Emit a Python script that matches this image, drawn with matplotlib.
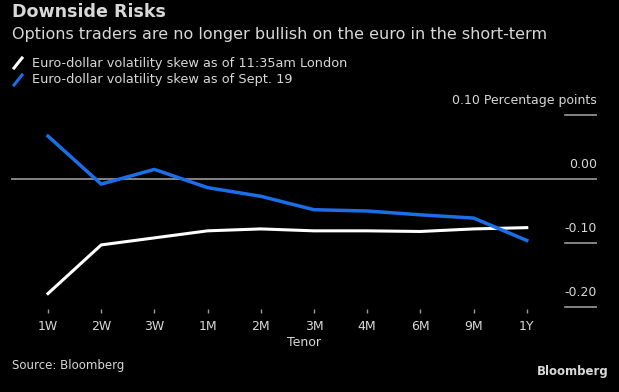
import matplotlib.pyplot as plt
from matplotlib.lines import Line2D
from matplotlib.transforms import blended_transform_factory

tenors = ['1W', '2W', '3W', '1M', '2M', '3M', '4M', '6M', '9M', '1Y']
skew_now = [-0.179, -0.103, -0.092, -0.081, -0.078, -0.081, -0.081, -0.082, -0.078, -0.076]
skew_sep19 = [0.067, -0.008, 0.015, -0.0135, -0.027, -0.048, -0.050, -0.056, -0.061, -0.096]
ytick_vals = [0.10, 0.00, -0.10, -0.20]
ytick_labels = ['0.10 Percentage points', '0.00', '-0.10', '-0.20']

bg = 'black'
txt = '#d8d8d8'
blue = '#1a6fe8'

fig = plt.figure(figsize=(6.19, 3.92), dpi=100, facecolor=bg)
W, H = 619, 392
ax = fig.add_axes([11 / W, 1 - 309 / H, (597 - 11) / W, (309 - 100) / H], facecolor=bg)

x = list(range(len(tenors)))
ax.plot(x, skew_now, color='white', lw=2.2, solid_joinstyle='round', zorder=3)
ax.plot(x, skew_sep19, color=blue, lw=2.5, solid_joinstyle='round', zorder=3)

ax.set_xlim(-0.695, 10.32)
ax.set_ylim((179 - 309) / 640, (179 - 100) / 640)

# y "ticks": zero line across, short marks on the right for the rest
trans = blended_transform_factory(ax.transAxes, ax.transData)
for v, lab in zip(ytick_vals, ytick_labels):
    if v == 0:
        ax.axhline(0, color='#9a9a9a', lw=1.2, zorder=1)
    else:
        ax.axhline(v, xmin=(565 - 11) / (597 - 11), xmax=1, color='#9a9a9a', lw=1.2)
    ax.text(1, v + 0.013, lab, transform=trans, ha='right', va='bottom',
            color=txt, fontsize=9)

ax.set_yticks([])
ax.set_xticks(x)
ax.set_xticklabels(tenors, color=txt, fontsize=9)
ax.tick_params(axis='x', colors='#9a9a9a', length=3, width=1, pad=5, labelcolor=txt)
ax.set_xlabel('Tenor', color=txt, fontsize=9, labelpad=2)
for s in ax.spines.values():
    s.set_visible(False)

fig.text(12 / W, 1 - 12 / H, 'Downside Risks', color=txt, fontsize=12.6,
         fontweight='bold', ha='left', va='center')
fig.text(12 / W, 1 - 35 / H, 'Options traders are no longer bullish on the euro in the short-term',
         color=txt, fontsize=11.5, ha='left', va='center')

legend_items = [('Euro-dollar volatility skew as of 11:35am London', 'white', 63),
                ('Euro-dollar volatility skew as of Sept. 19', blue, 80)]
for label, col, yp in legend_items:
    fig.add_artist(Line2D([14 / W, 22 / W], [1 - (yp + 5) / H, 1 - (yp - 5) / H],
                          color=col, lw=2.2, transform=fig.transFigure))
    fig.text(32 / W, 1 - yp / H, label, color=txt, fontsize=9.3, ha='left', va='center')

fig.text(12 / W, 1 - 366 / H, 'Source: Bloomberg', color=txt, fontsize=8.5, ha='left', va='center')
fig.text(609 / W, 1 - 372 / H, 'Bloomberg', color=txt, fontsize=8.5, fontweight='bold',
         ha='right', va='center')

fig.savefig('out.png', dpi=100, facecolor=bg)
